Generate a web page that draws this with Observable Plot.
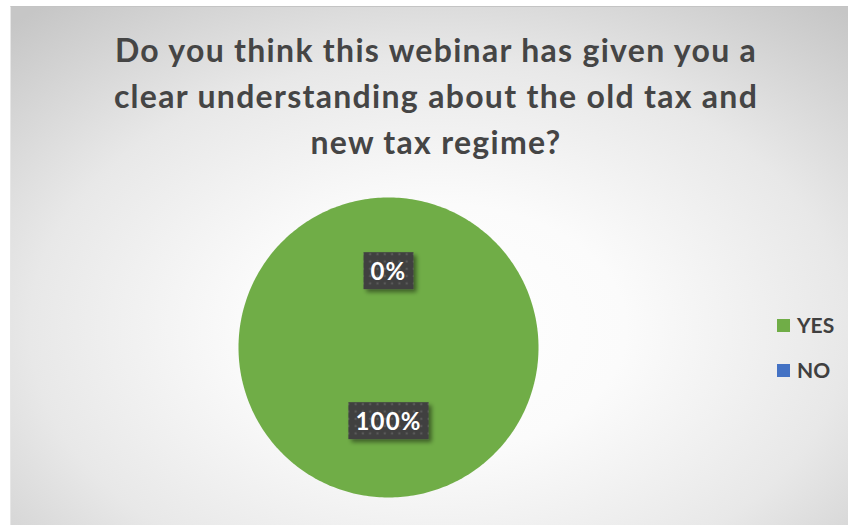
<!DOCTYPE html>
<html><head><meta charset="utf-8">
<script src="https://cdn.jsdelivr.net/npm/d3@7"></script>
<script src="https://cdn.jsdelivr.net/npm/@observablehq/plot@0.6"></script>
<style>
body{margin:0;background:#fff;}
#wrap{position:relative;width:848px;height:525px;overflow:hidden;font-family:Lato,"Open Sans",sans-serif;}
#bg{position:absolute;left:10px;top:6px;width:838px;height:519px;box-sizing:border-box;
 border-left:1px solid #e6e6e6;border-top:1px solid #c4c4c4;
 background:radial-gradient(ellipse 75% 80% at 51% 62%, #ffffff 0%, #fbfbfb 30%, #e8e8e8 65%, #c6c6c6 100%);}
#chart{position:absolute;left:0;top:0;}
#title{position:absolute;left:10px;top:27px;width:838px;padding-left:14px;box-sizing:border-box;text-align:center;
 font-weight:700;font-size:32px;letter-spacing:1.3px;line-height:46px;color:#454545;}
.lg{position:absolute;left:777px;height:24px;display:flex;align-items:center;font-weight:700;font-size:21px;line-height:24px;color:#404040;}
.lg i{display:inline-block;width:13px;height:13px;margin-right:7px;}
.plabel text{letter-spacing:1.2px;}
</style></head>
<body>
<div id="wrap"><div id="bg"></div><div id="chart"></div><div id="title"></div><div id="legend"></div></div>
<script>
const titleLines = ["Do you think this webinar has given you a", "clear understanding about the old tax and", "new tax regime?"];
const categories = ["YES", "NO"];
const values = [100, 0];
const colors = ["#70AD47", "#4472C4"];
const labelTexts = ["100%", "0%"];

document.getElementById("title").innerHTML = titleLines.join("<br>");

const rows = categories.map((c, i) => ({key: c, value: values[i], label: labelTexts[i]}));
const arcs = d3.pie().sort(null).value(d => d.value)(rows);

// polygon outline per slice in unit-circle coordinates
const pts = [];
arcs.forEach(a => {
  const span = a.endAngle - a.startAngle;
  if (span <= 0) return;
  const n = Math.max(2, Math.ceil(span / (Math.PI / 180)));
  if (span < 2 * Math.PI - 1e-9) pts.push({key: a.data.key, x: 0, y: 0});
  for (let k = 0; k <= n; k++) {
    const t = a.startAngle + span * k / n;
    pts.push({key: a.data.key, x: Math.sin(t), y: Math.cos(t)});
  }
});
const labels = arcs.map(a => {
  const m = (a.startAngle + a.endAngle) / 2;
  return {x: 0.5 * Math.sin(m), y: 0.5 * Math.cos(m), text: a.data.label};
});

const plot = Plot.plot({
  width: 848, height: 525, margin: 0,
  style: {background: "transparent", overflow: "visible"},
  x: {domain: [-1, 1], range: [238, 538], axis: null},
  y: {domain: [-1, 1], range: [497, 197], axis: null},
  color: {domain: categories, range: colors},
  marks: [
    Plot.line(pts, {x: "x", y: "y", z: "key", fill: "key", stroke: null, curve: "linear"}),
    Plot.text(labels, {x: "x", y: "y", text: "text", fill: "white", fontSize: 24, fontWeight: 700,
      fontFamily: "Lato", className: "plabel"})
  ]
});
document.getElementById("chart").appendChild(plot);

// pattern + shadow defs
const ns = "http://www.w3.org/2000/svg";
const svg = d3.select(plot);
const defs = svg.insert("defs", ":first-child");
const pat = defs.append("pattern").attr("id", "dots").attr("patternUnits", "userSpaceOnUse")
  .attr("width", 7.3).attr("height", 7.3);
pat.append("rect").attr("width", 7.3).attr("height", 7.3).attr("fill", "#404040");
pat.append("rect").attr("x", 2.5).attr("y", 2.5).attr("width", 2.2).attr("height", 2.2).attr("fill", "#5a5a5a");
const f = defs.append("filter").attr("id", "shadow").attr("x", "-30%").attr("y", "-30%").attr("width", "160%").attr("height", "160%");
f.append("feDropShadow").attr("dx", 3).attr("dy", 3).attr("stdDeviation", 2.2)
  .attr("flood-color", "#000").attr("flood-opacity", 0.45);

svg.selectAll("g.plabel text").each(function() {
  const b = this.getBBox();
  const padX = 7, h = 37;
  const cy = b.y + b.height / 2;
  const r = document.createElementNS(ns, "rect");
  r.setAttribute("x", b.x - padX);
  r.setAttribute("y", cy - h / 2);
  r.setAttribute("width", b.width + 2 * padX);
  r.setAttribute("height", h);
  r.setAttribute("fill", "url(#dots)");
  r.setAttribute("filter", "url(#shadow)");
  const tr = this.getAttribute("transform");
  if (tr) r.setAttribute("transform", tr);
  this.parentNode.insertBefore(r, this);
});

// legend
const lg = document.getElementById("legend");
categories.forEach((c, i) => {
  const d = document.createElement("div");
  d.className = "lg";
  d.style.top = (313 + i * 45) + "px";
  d.innerHTML = `<i style="background:${colors[i]}"></i>${c}`;
  lg.appendChild(d);
});
</script>
</body></html>
